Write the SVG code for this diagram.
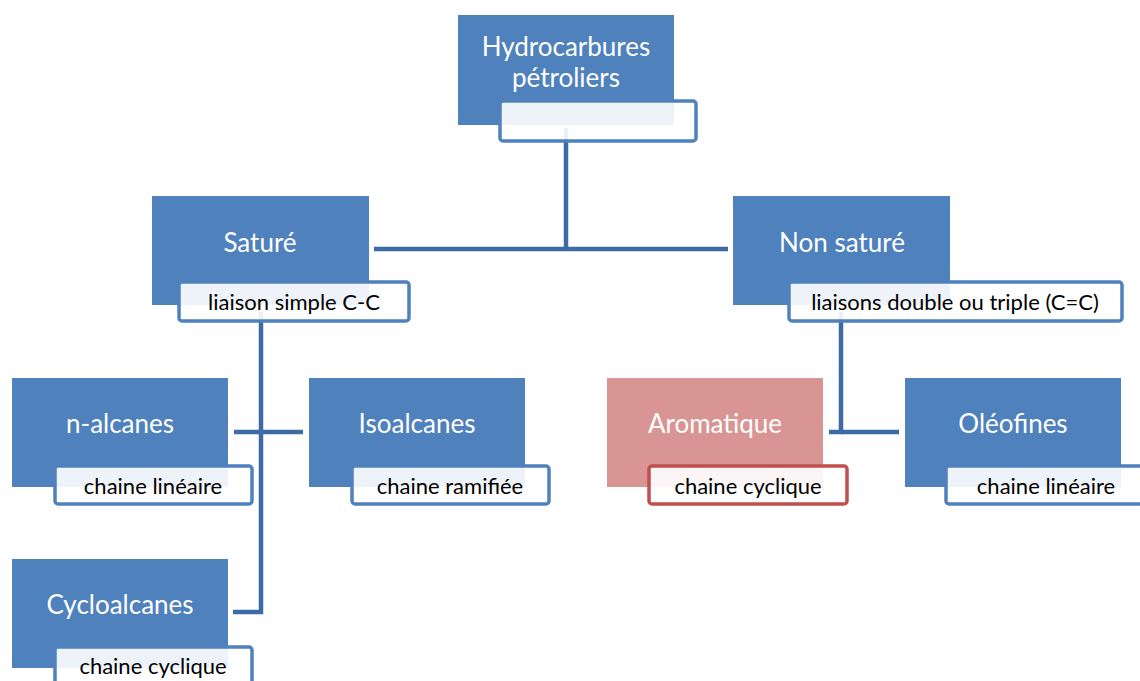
<svg xmlns="http://www.w3.org/2000/svg" width="1140" height="681" viewBox="0 0 1140 681">
  <style>
    .box { fill: #4f81bd; }
    .box.alt { fill: #d99594; }
    .tag { fill: #ffffff; fill-opacity: 0.9; stroke: #4f81bd; stroke-width: 3.5; }
    .tag.alt { stroke: #c0504d; }
    .title { font-family: Lato, "Open Sans", sans-serif; font-size: 26px; fill: #ffffff; text-anchor: middle; }
    .sub { font-family: Lato, "Open Sans", sans-serif; font-size: 22px; fill: #000000; text-anchor: middle; }
    .link { fill: none; stroke: #3d6ba3; stroke-width: 4.5; }
  </style>

  <rect width="1140" height="681" fill="#ffffff"/>

  <!-- connectors -->
  <g id="connectors">
    <path class="link" d="M566 128 V249"/>
    <path class="link" d="M374 249 H728"/>
    <path class="link" d="M261 312 V612 H233"/>
    <path class="link" d="M234 432 H303"/>
    <path class="link" d="M841 312 V432 H829"/>
    <path class="link" d="M841 432 H899"/>
  </g>

  <g id="hydrocarbures">
    <rect class="box" x="458" y="15" width="216" height="110"/>
    <rect class="tag" x="500" y="101" width="196" height="40" rx="3"/>
    <text class="title" x="566" y="56">Hydrocarbures</text>
    <text class="title" x="566" y="87">pétroliers</text>
  </g>

  <g id="sature">
    <rect class="box" x="152" y="196" width="217" height="109"/>
    <rect class="tag" x="179" y="282" width="230" height="39" rx="3"/>
    <text class="title" x="260" y="252">Saturé</text>
    <text class="sub" x="294" y="310">liaison simple C-C</text>
  </g>

  <g id="non-sature">
    <rect class="box" x="733" y="196" width="217" height="109"/>
    <rect class="tag" x="789" y="282" width="333" height="39" rx="3"/>
    <text class="title" x="842" y="252">Non saturé</text>
    <text class="sub" x="955" y="310">liaisons double ou triple (C=C)</text>
  </g>

  <g id="n-alcanes">
    <rect class="box" x="12" y="378" width="216" height="109"/>
    <rect class="tag" x="55" y="466" width="197" height="38" rx="3"/>
    <text class="title" x="120" y="433">n-alcanes</text>
    <text class="sub" x="153" y="494">chaine linéaire</text>
  </g>

  <g id="isoalcanes">
    <rect class="box" x="309" y="378" width="216" height="109"/>
    <rect class="tag" x="352" y="466" width="197" height="38" rx="3"/>
    <text class="title" x="417" y="433">Isoalcanes</text>
    <text class="sub" x="450" y="494">chaine ramifiée</text>
  </g>

  <g id="aromatique">
    <rect class="box alt" x="607" y="378" width="216" height="109"/>
    <rect class="tag alt" x="649" y="466" width="198" height="38" rx="3"/>
    <text class="title" x="715" y="433">Aromatique</text>
    <text class="sub" x="748" y="494">chaine cyclique</text>
  </g>

  <g id="oleofines">
    <rect class="box" x="905" y="378" width="216" height="109"/>
    <rect class="tag" x="946" y="466" width="200" height="38" rx="3"/>
    <text class="title" x="1013" y="433">Oléofines</text>
    <text class="sub" x="1046" y="494">chaine linéaire</text>
  </g>

  <g id="cycloalcanes">
    <rect class="box" x="12" y="559" width="216" height="109"/>
    <rect class="tag" x="55" y="647" width="197" height="38" rx="3"/>
    <text class="title" x="120" y="614">Cycloalcanes</text>
    <text class="sub" x="153" y="674">chaine cyclique</text>
  </g>
</svg>
